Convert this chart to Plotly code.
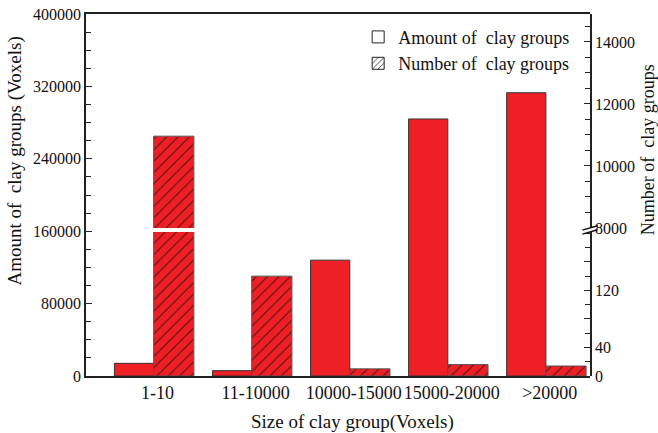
import plotly.graph_objects as go

categories = ["1-10", "11-10000", "10000-15000", "15000-20000", ">20000"]
amount_voxels = [14000, 5900, 128000, 284000, 313000]
number_groups = [10960, 140, 10, 16, 14]

left_ticks = [0, 80000, 160000, 240000, 320000, 400000]
right_low_ticks = [0, 40, 80, 120, 160, 200]
right_low_text = ["0", "40", "", "120", "", ""]
right_high_ticks = [8000, 10000, 12000, 14000]

RED = "#EE2026"
FONT = "Liberation Serif"
NB = "\u00a0"

fig = go.Figure()

# amount bars (left axis)
fig.add_trace(go.Bar(x=categories, y=amount_voxels, xaxis="x", yaxis="y",
                     marker=dict(color=RED, line=dict(color="#333333", width=1)),
                     width=0.40, offset=-0.44, showlegend=False))
# number bars lower segment
hatch = dict(shape="/", fgcolor="#4a1010", bgcolor=RED, size=8, solidity=0.12)
fig.add_trace(go.Bar(x=categories, y=number_groups, xaxis="x2", yaxis="y2",
                     marker=dict(color=RED, pattern=hatch, line=dict(color="#555555", width=1)),
                     width=0.41, offset=-0.04, showlegend=False))
# number bars upper segment
fig.add_trace(go.Bar(x=categories, y=number_groups, xaxis="x3", yaxis="y3",
                     marker=dict(color=RED, pattern=hatch, line=dict(color="#555555", width=1)),
                     width=0.41, offset=-0.04, showlegend=False))

# legend entries
fig.add_trace(go.Bar(x=[categories[0]], y=[None], name="Amount of" + NB + " clay groups",
                     marker=dict(color="white", line=dict(color="#222222", width=1)),
                     xaxis="x", yaxis="y"))
fig.add_trace(go.Bar(x=[categories[0]], y=[None], name="Number of" + NB + " clay groups",
                     marker=dict(color="white", line=dict(color="#222222", width=1),
                                 pattern=dict(shape="/", fgcolor="#222222", bgcolor="white", size=5, solidity=0.2)),
                     xaxis="x", yaxis="y"))

xr = [-0.73, 4.41]
tickfont = dict(family=FONT, size=16, color="#111111")
fig.update_layout(
    template="none",
    width=658, height=433,
    margin=dict(l=86, r=68, t=14, b=57, autoexpand=False),
    paper_bgcolor="white", plot_bgcolor="rgba(0,0,0,0)",
    font=dict(family=FONT, size=16, color="#111111"),
    barmode="overlay",
    xaxis=dict(domain=[0, 1], range=xr, anchor="y", showline=True, linecolor="#222", linewidth=1.5,
               mirror=True, ticks="", tickfont=dict(family=FONT, size=18, color="#111111"),
               showgrid=False, zeroline=False, ticklabelstandoff=0, automargin=False),
    yaxis=dict(domain=[0, 1], range=[0, 400000], tickvals=left_ticks, ticks="inside", ticklen=6,
               tickcolor="#222", showline=True, linecolor="#222", linewidth=1.5, showgrid=False,
               zeroline=False, tickfont=tickfont, tickformat="d", automargin=False,
               minor=dict(dtick=20000, ticks="inside", ticklen=5, tickcolor="#222", showgrid=False)),
    xaxis2=dict(domain=[0, 1], range=xr, anchor="y2", visible=False, automargin=False),
    xaxis3=dict(domain=[0, 1], range=xr, anchor="y3", visible=False, automargin=False),
    yaxis2=dict(domain=[0, 0.398], range=[0, 202], anchor="x2", side="right", tickvals=right_low_ticks,
                ticktext=right_low_text, ticks="inside", ticklen=6, tickcolor="#222", showline=True,
                linecolor="#222", linewidth=1.5, showgrid=False, zeroline=False, tickfont=tickfont,
                automargin=False,
                minor=dict(dtick=20, ticks="inside", ticklen=5, tickcolor="#222", showgrid=False)),
    yaxis3=dict(domain=[0.409, 1], range=[8000, 14900], anchor="x3", side="right", tickvals=right_high_ticks,
                ticks="inside", ticklen=6, tickcolor="#222", showline=True, linecolor="#222", linewidth=1.5,
                showgrid=False, zeroline=False, tickfont=tickfont, tickformat="d", automargin=False,
                minor=dict(dtick=500, ticks="inside", ticklen=5, tickcolor="#222", showgrid=False)),
    legend=dict(x=0.54, y=0.987, xanchor="left", yanchor="top", bgcolor="rgba(0,0,0,0)",
                font=dict(family=FONT, size=18, color="#111"), tracegroupgap=0, itemwidth=30,
                traceorder="normal"),
    showlegend=True,
)

# axis titles
fig.add_annotation(text="Size of clay group(Voxels)", xref="paper", yref="paper", x=0.528, y=-0.127,
                   xanchor="center", yanchor="middle", showarrow=False, font=dict(family=FONT, size=19))
fig.add_annotation(text="Amount of" + NB + " clay groups (Voxels)", xref="paper", yref="paper", x=-0.141, y=0.595,
                   textangle=-90, xanchor="center", yanchor="middle", showarrow=False, font=dict(family=FONT, size=19))
fig.add_annotation(text="Number of" + NB + " clay groups", xref="paper", yref="paper", x=1.114, y=0.625,
                   textangle=-90, xanchor="center", yanchor="middle", showarrow=False, font=dict(family=FONT, size=18))

# axis break marks
for dy in (0.0, 0.011):
    fig.add_shape(type="line", xref="paper", yref="paper", x0=0.985, x1=1.015,
                  y0=0.392 + dy, y1=0.404 + dy, line=dict(color="#111", width=1.5))

fig.write_html("out.html")
